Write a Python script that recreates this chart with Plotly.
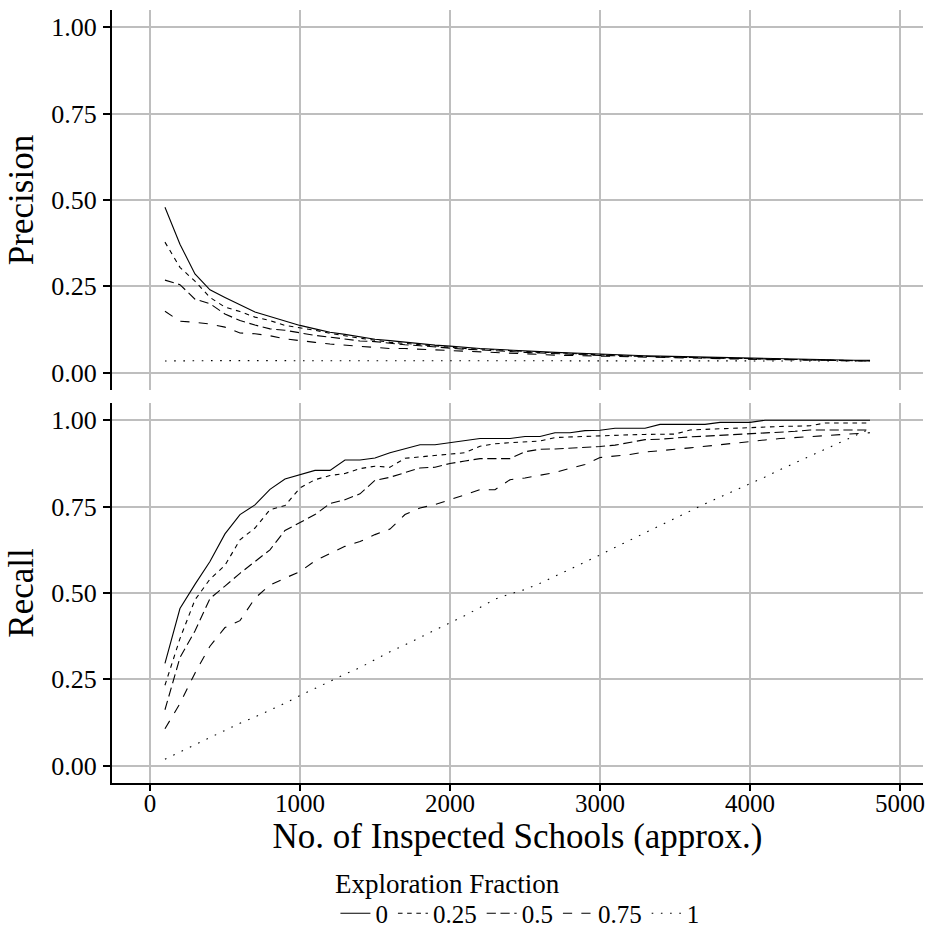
import plotly.graph_objects as go
from plotly.subplots import make_subplots

# ---- data ----
inspected = [100, 200, 300, 400, 500, 600, 700, 800, 900, 1000, 1100, 1200, 1300, 1400, 1500, 1600,
             1700, 1800, 1900, 2000, 2100, 2200, 2300, 2400, 2500, 2600, 2700, 2800, 2900, 3000, 3100, 3200,
             3300, 3400, 3500, 3600, 3700, 3800, 3900, 4000, 4100, 4200, 4300, 4400, 4500, 4600, 4700, 4800]

fractions = ["0", "0.25", "0.5", "0.75", "1"]

recall_0 = [0.296, 0.455, 0.525, 0.591, 0.671, 0.727, 0.755, 0.800, 0.830, 0.842,
            0.855, 0.855, 0.885, 0.885, 0.891, 0.906, 0.918, 0.929, 0.929, 0.935,
            0.941, 0.947, 0.947, 0.947, 0.953, 0.953, 0.964, 0.964, 0.970, 0.971,
            0.977, 0.977, 0.977, 0.988, 0.988, 0.988, 0.988, 0.994, 0.994, 0.994,
            1.0, 1.0, 1.0, 1.0, 1.0, 1.0, 1.0, 1.0]
recall_025 = [0.233, 0.368, 0.480, 0.540, 0.580, 0.654, 0.688, 0.741, 0.753, 0.804,
              0.828, 0.840, 0.846, 0.860, 0.867, 0.864, 0.890, 0.894, 0.898, 0.901,
              0.906, 0.925, 0.932, 0.935, 0.938, 0.940, 0.950, 0.952, 0.954, 0.955,
              0.957, 0.958, 0.959, 0.960, 0.960, 0.972, 0.974, 0.976, 0.978, 0.979,
              0.981, 0.982, 0.983, 0.984, 0.992, 0.992, 0.992, 0.992]
recall_05 = [0.162, 0.313, 0.390, 0.484, 0.520, 0.557, 0.591, 0.625, 0.681, 0.704,
             0.727, 0.759, 0.770, 0.787, 0.826, 0.835, 0.848, 0.862, 0.864, 0.875,
             0.882, 0.889, 0.889, 0.889, 0.909, 0.916, 0.917, 0.919, 0.921, 0.924,
             0.928, 0.936, 0.944, 0.945, 0.949, 0.952, 0.954, 0.956, 0.958, 0.961,
             0.964, 0.966, 0.968, 0.972, 0.972, 0.972, 0.972, 0.972]
recall_075 = [0.107, 0.180, 0.268, 0.346, 0.400, 0.420, 0.485, 0.523, 0.543, 0.562,
              0.593, 0.613, 0.635, 0.649, 0.669, 0.685, 0.727, 0.746, 0.756, 0.770,
              0.785, 0.799, 0.799, 0.828, 0.833, 0.840, 0.849, 0.861, 0.872, 0.892,
              0.896, 0.901, 0.908, 0.913, 0.916, 0.920, 0.925, 0.930, 0.935, 0.938,
              0.943, 0.947, 0.950, 0.953, 0.956, 0.959, 0.962, 0.964]
recall_1 = [0.019, 0.040, 0.060, 0.081, 0.102, 0.123, 0.141, 0.160, 0.181, 0.203,
            0.224, 0.246, 0.265, 0.284, 0.307, 0.330, 0.350, 0.371, 0.393, 0.413,
            0.435, 0.458, 0.482, 0.497, 0.510, 0.528, 0.548, 0.569, 0.590, 0.610,
            0.632, 0.654, 0.674, 0.695, 0.715, 0.737, 0.758, 0.777, 0.797, 0.817,
            0.836, 0.857, 0.877, 0.897, 0.917, 0.937, 0.956, 0.975]

precision_0 = [0.479, 0.372, 0.286, 0.240, 0.218, 0.197, 0.176, 0.163, 0.150, 0.137,
               0.127, 0.117, 0.111, 0.104, 0.097, 0.093, 0.088, 0.084, 0.080, 0.077,
               0.073, 0.070, 0.068, 0.065, 0.063, 0.061, 0.059, 0.057, 0.055, 0.054,
               0.052, 0.050, 0.049, 0.048, 0.047, 0.045, 0.044, 0.043, 0.042, 0.041,
               0.040, 0.039, 0.039, 0.038, 0.037, 0.037, 0.036, 0.036]
precision_025 = [0.378, 0.305, 0.265, 0.218, 0.190, 0.177, 0.161, 0.151, 0.137, 0.131,
                 0.123, 0.114, 0.106, 0.100, 0.094, 0.088, 0.085, 0.081, 0.077, 0.073,
                 0.070, 0.069, 0.066, 0.064, 0.061, 0.059, 0.058, 0.055, 0.054, 0.052,
                 0.050, 0.049, 0.047, 0.046, 0.045, 0.044, 0.043, 0.042, 0.041, 0.040,
                 0.039, 0.038, 0.037, 0.037, 0.036, 0.036, 0.035, 0.035]
precision_05 = [0.268, 0.255, 0.213, 0.200, 0.170, 0.151, 0.138, 0.127, 0.123, 0.115,
                0.108, 0.103, 0.097, 0.092, 0.090, 0.085, 0.081, 0.078, 0.074, 0.071,
                0.068, 0.066, 0.063, 0.060, 0.059, 0.057, 0.056, 0.054, 0.052, 0.050,
                0.049, 0.048, 0.047, 0.045, 0.044, 0.043, 0.042, 0.041, 0.040, 0.039,
                0.038, 0.038, 0.037, 0.037, 0.036, 0.035, 0.035, 0.034]
precision_075 = [0.178, 0.149, 0.146, 0.141, 0.132, 0.115, 0.113, 0.107, 0.098, 0.094,
                 0.088, 0.083, 0.080, 0.076, 0.073, 0.070, 0.070, 0.068, 0.065, 0.063,
                 0.061, 0.059, 0.057, 0.056, 0.054, 0.053, 0.051, 0.050, 0.049, 0.048,
                 0.047, 0.046, 0.045, 0.044, 0.043, 0.042, 0.041, 0.040, 0.040, 0.039,
                 0.038, 0.038, 0.037, 0.036, 0.036, 0.035, 0.035, 0.034]
precision_1 = [0.034, 0.035, 0.034, 0.035, 0.035, 0.035, 0.034, 0.034, 0.034, 0.035,
               0.035, 0.035, 0.034, 0.034, 0.035, 0.035, 0.035, 0.035, 0.035, 0.035,
               0.035, 0.035, 0.036, 0.035, 0.035, 0.035, 0.035, 0.035, 0.035, 0.035,
               0.035, 0.035, 0.035, 0.035, 0.035, 0.035, 0.035, 0.035, 0.035, 0.035,
               0.035, 0.035, 0.035, 0.035, 0.035, 0.035, 0.034, 0.034]

precision = [precision_0, precision_025, precision_05, precision_075, precision_1]
recall = [recall_0, recall_025, recall_05, recall_075, recall_1]

x_ticks = [0, 1000, 2000, 3000, 4000, 5000]
y_ticks = [0.0, 0.25, 0.5, 0.75, 1.0]
y_ticklabels = ["0.00", "0.25", "0.50", "0.75", "1.00"]

# ---- styling ----
dashes = ["solid", "4.6px,4.6px", "9.2px,4.6px", "9.2px,9.2px", "1.6px,7.6px"]
FONT = "Liberation Serif"
GRID = "#bebebe"

fig = make_subplots(rows=2, cols=1, shared_xaxes=False, vertical_spacing=0.0168)

for i, frac in enumerate(fractions):
    fig.add_trace(go.Scatter(x=inspected, y=precision[i], mode="lines", name=frac,
                             line=dict(color="black", width=1.1, dash=dashes[i]),
                             legendgroup=frac, showlegend=True), row=1, col=1)
    fig.add_trace(go.Scatter(x=inspected, y=recall[i], mode="lines", name=frac,
                             line=dict(color="black", width=1.1, dash=dashes[i]),
                             legendgroup=frac, showlegend=False), row=2, col=1)

xcommon = dict(range=[-253, 5153], tickvals=x_ticks, showgrid=True, gridcolor=GRID, gridwidth=2,
               zeroline=False)
ycommon = dict(range=[-0.05, 1.05], tickvals=y_ticks, ticktext=y_ticklabels, showgrid=True,
               gridcolor=GRID, gridwidth=2, zeroline=False, showline=True, linecolor="black",
               linewidth=2, ticks="outside", ticklen=7, tickwidth=2, tickcolor="black",
               tickfont=dict(size=26, color="black", family=FONT), ticklabelstandoff=1)

fig.update_xaxes(**xcommon, showticklabels=False, ticks="", showline=False, row=1, col=1)
fig.update_xaxes(**xcommon, showticklabels=True, ticks="outside", ticklen=6, tickwidth=2,
                 tickcolor="black", showline=True, linecolor="black", linewidth=2,
                 tickfont=dict(size=25, color="black", family=FONT), ticklabelstandoff=-9,
                 title=dict(text="No. of Inspected Schools (approx.)",
                            font=dict(size=35, color="black", family=FONT), standoff=6),
                 row=2, col=1)
fig.update_yaxes(**ycommon, title=dict(text="Precision", font=dict(size=35, color="black", family=FONT),
                                       standoff=7), row=1, col=1)
fig.update_yaxes(**ycommon, title=dict(text="Recall", font=dict(size=35, color="black", family=FONT),
                                       standoff=7), row=2, col=1)

fig.update_layout(
    width=930, height=932,
    margin=dict(l=112, r=7, t=10, b=149, autoexpand=False),
    paper_bgcolor="white", plot_bgcolor="white",
    font=dict(family=FONT, color="black"),
    legend=dict(orientation="h", x=0.503, xanchor="center", y=-0.139, yanchor="top",
                font=dict(size=25, color="black", family=FONT),
                itemwidth=30, tracegroupgap=0, bgcolor="rgba(0,0,0,0)"),
    annotations=[dict(text="Exploration Fraction", xref="paper", yref="paper",
                      x=0.2725, y=-0.131, xanchor="left", yanchor="middle", showarrow=False,
                      font=dict(size=27, color="black", family=FONT))],
)
fig.layout.yaxis.domain = [0.5084, 1.0]
fig.layout.yaxis2.domain = [0.0, 0.4916]

fig.write_html("out.html")
